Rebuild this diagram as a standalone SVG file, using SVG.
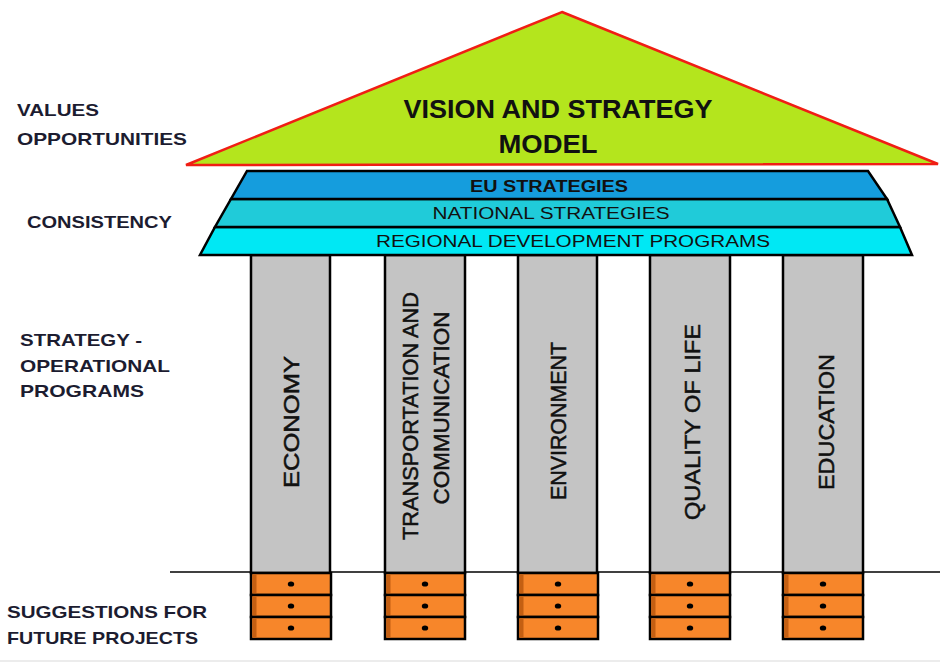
<svg xmlns="http://www.w3.org/2000/svg" width="940" height="664" viewBox="0 0 940 664">
<style>
.lbl{font-family:"Liberation Sans",Arial,sans-serif;font-weight:bold;font-size:17px;fill:#1c1c30}
.band{stroke:#000;stroke-width:2.5;stroke-linejoin:miter}
.btxt{font-family:"Liberation Sans",Arial,sans-serif;font-size:16px;fill:#111;text-anchor:middle}
.pillar{fill:#c4c4c4;stroke:#000;stroke-width:2.5}
.ptxt{font-family:"Liberation Sans",Arial,sans-serif;font-size:22px;fill:#111;stroke:#111;stroke-width:0.5;text-anchor:middle}
.drawer{fill:#f7862a;stroke:#000;stroke-width:2.5}
.shade{fill:#c45f12}
.dot{fill:#000}
</style>
<defs>
<g id="drawers">
<rect class="drawer" x="0" y="573" width="80" height="22"/>
<rect class="shade" x="1.5" y="574.5" width="4" height="19"/>
<ellipse class="dot" cx="40" cy="584" rx="3.2" ry="2.6"/>
<rect class="drawer" x="0" y="595" width="80" height="22"/>
<rect class="shade" x="1.5" y="596.5" width="4" height="19"/>
<ellipse class="dot" cx="40" cy="606" rx="3.2" ry="2.6"/>
<rect class="drawer" x="0" y="617" width="80" height="22"/>
<rect class="shade" x="1.5" y="618.5" width="4" height="19"/>
<ellipse class="dot" cx="40" cy="628" rx="3.2" ry="2.6"/>
</g>
</defs>
<rect width="940" height="664" fill="#fff"/>

<g id="labels">
<text class="lbl" x="17" y="116" textLength="82" lengthAdjust="spacingAndGlyphs">VALUES</text>
<text class="lbl" x="17" y="145" textLength="170" lengthAdjust="spacingAndGlyphs">OPPORTUNITIES</text>
<text class="lbl" x="27" y="228" textLength="145" lengthAdjust="spacingAndGlyphs">CONSISTENCY</text>
<text class="lbl" x="20" y="346" textLength="122" lengthAdjust="spacingAndGlyphs">STRATEGY -</text>
<text class="lbl" x="20" y="372" textLength="150" lengthAdjust="spacingAndGlyphs">OPERATIONAL</text>
<text class="lbl" x="20" y="397" textLength="124" lengthAdjust="spacingAndGlyphs">PROGRAMS</text>
<text class="lbl" x="7" y="618" textLength="200" lengthAdjust="spacingAndGlyphs">SUGGESTIONS FOR</text>
<text class="lbl" x="7" y="644" textLength="191" lengthAdjust="spacingAndGlyphs">FUTURE PROJECTS</text>
</g>

<g id="connectors">
<line x1="170" y1="572" x2="940" y2="572" stroke="#000" stroke-width="1.5"/>
<line x1="0" y1="661" x2="940" y2="661" stroke="#e6e6e6" stroke-width="1.5"/>
</g>

<g id="pillar-economy">
<rect class="pillar" x="251" y="255" width="79" height="318"/>
<text class="ptxt" transform="translate(299,422) rotate(-90)" textLength="132" lengthAdjust="spacingAndGlyphs">ECONOMY</text>
<use href="#drawers" x="251"/>
</g>
<g id="pillar-transport">
<rect class="pillar" x="385" y="255" width="80" height="318"/>
<text class="ptxt" transform="translate(418,416) rotate(-90)" textLength="248" lengthAdjust="spacingAndGlyphs">TRANSPORTATION AND</text>
<text class="ptxt" transform="translate(449,408) rotate(-90)" textLength="193" lengthAdjust="spacingAndGlyphs">COMMUNICATION</text>
<use href="#drawers" x="385"/>
</g>
<g id="pillar-environment">
<rect class="pillar" x="518" y="255" width="79" height="318"/>
<text class="ptxt" transform="translate(566,421) rotate(-90)" textLength="158" lengthAdjust="spacingAndGlyphs">ENVIRONMENT</text>
<use href="#drawers" x="518"/>
</g>
<g id="pillar-quality">
<rect class="pillar" x="650" y="255" width="80" height="318"/>
<text class="ptxt" transform="translate(700,422) rotate(-90)" textLength="196" lengthAdjust="spacingAndGlyphs">QUALITY OF LIFE</text>
<use href="#drawers" x="650"/>
</g>
<g id="pillar-education">
<rect class="pillar" x="783" y="255" width="80" height="318"/>
<text class="ptxt" transform="translate(834,422) rotate(-90)" textLength="136" lengthAdjust="spacingAndGlyphs">EDUCATION</text>
<use href="#drawers" x="783"/>
</g>

<g id="band-regional">
<polygon class="band" points="215,227 900,227 912,255 200,255" fill="#00e8f4"/>
<text class="btxt" x="573" y="247" textLength="394" lengthAdjust="spacingAndGlyphs">REGIONAL DEVELOPMENT PROGRAMS</text>
</g>
<g id="band-national">
<polygon class="band" points="231,199 887,199 900,227 215,227" fill="#20cbd9"/>
<text class="btxt" x="551" y="219" textLength="237" lengthAdjust="spacingAndGlyphs">NATIONAL STRATEGIES</text>
</g>
<g id="band-eu">
<polygon class="band" points="247,171 868,171 887,199 231,199" fill="#159ddd"/>
<text class="btxt" x="549" y="192" font-weight="bold" textLength="158" lengthAdjust="spacingAndGlyphs">EU STRATEGIES</text>
</g>

<g id="roof">
<polygon points="562,12 938,164 186,165" fill="#b4e51d" stroke="#f01e14" stroke-width="2.5" stroke-linejoin="miter"/>
<text x="558" y="118" font-family="'Liberation Sans',Arial,sans-serif" font-weight="bold" font-size="25" fill="#111" text-anchor="middle" textLength="309" lengthAdjust="spacingAndGlyphs">VISION AND STRATEGY</text>
<text x="548" y="153" font-family="'Liberation Sans',Arial,sans-serif" font-weight="bold" font-size="25" fill="#111" text-anchor="middle" textLength="99" lengthAdjust="spacingAndGlyphs">MODEL</text>
</g>
</svg>
